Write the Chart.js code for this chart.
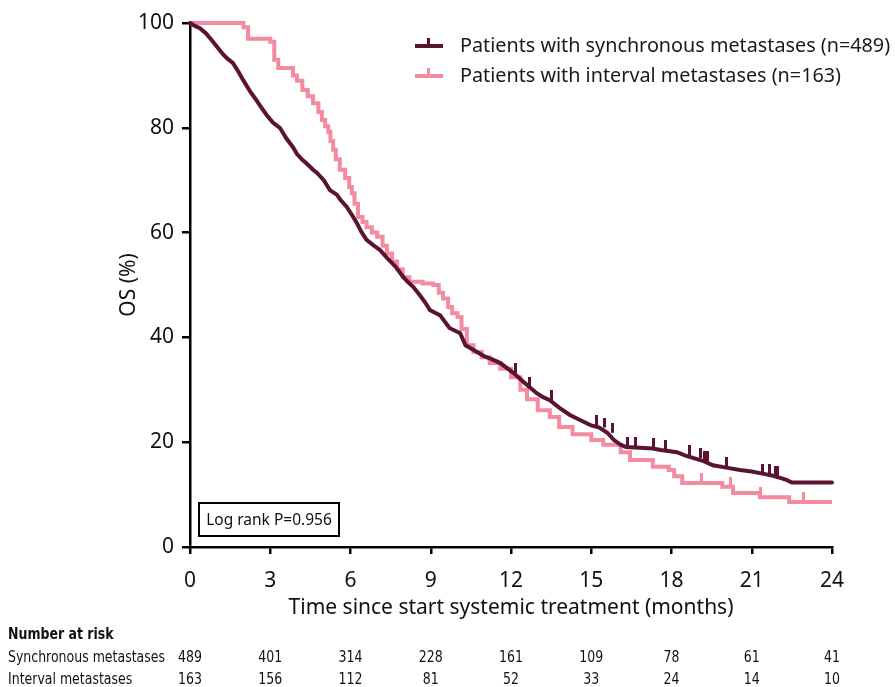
<!DOCTYPE html>
<html>
<head>
<meta charset="utf-8">
<script src="https://cdn.jsdelivr.net/npm/chart.js@4.4.0/dist/chart.umd.min.js"></script>
<style>
body { margin: 0; background: #fff; }
#wrap { position: relative; width: 895px; height: 687px; }
#chart { position: absolute; left: 0; top: 0; }
.legend { position: absolute; left: 415px; font-family: 'Noto Sans', sans-serif; font-size: 19.8px; color: #1a1a1a; }
.legend .sym { position: absolute; left: 0; width: 28px; height: 4px; }
.legend .sym i { position: absolute; left: 12px; top: -6px; width: 3px; height: 7px; }
.legend span { position: absolute; left: 45px; white-space: nowrap; }
#logrank { position: absolute; left: 198px; top: 502px; width: 138px; height: 31px; border: 2px solid #000;
  font-family: 'Noto Sans', sans-serif; font-size: 15.5px; line-height: 31px; text-align: center; color: #111; }
</style>
</head>
<body>
<div id="wrap">
  <canvas id="chart" width="895" height="687"></canvas>
  <div class="legend" style="top:31px">
    <div class="sym" style="top:13px;background:#5b1233"><i style="background:#5b1233"></i></div>
    <span style="top:0">Patients with synchronous metastases (n=489)</span>
  </div>
  <div class="legend" style="top:61px">
    <div class="sym" style="top:13px;background:#f38ca1"><i style="background:#f38ca1"></i></div>
    <span style="top:0">Patients with interval metastases (n=163)</span>
  </div>
  <div id="logrank">Log rank P=0.956</div>
</div>
<script>
// synchronous metastases (n=489) - survival
const syncTime = [0, 0.2, 0.37, 0.6, 0.8, 1.0, 1.24, 1.4, 1.6, 1.8, 2.0, 2.24, 2.45, 2.65, 2.87, 3.1, 3.36, 3.6, 3.85, 4.0,
  4.2, 4.4, 4.6, 4.75, 5.0, 5.23, 5.5, 5.6, 5.86, 6.05, 6.24, 6.4, 6.6, 6.85, 7.1, 7.4, 7.7, 7.9, 8.1, 8.35,
  8.6, 8.8, 8.97, 9.2, 9.35, 9.7, 10.1, 10.3, 10.6, 11.0, 11.3, 11.6, 12.1, 12.45, 12.7, 12.95, 13.2, 13.45,
  13.8, 14.2, 14.6, 15.0, 15.3, 15.6, 15.85, 16.1, 16.3, 17.3, 17.6, 18.2, 18.5, 18.8, 19.2, 19.55, 20.0, 20.56, 21.0, 21.4,
  21.8, 22.06, 22.3, 22.5, 24];
const syncSurv = [100, 99.4, 99, 98, 96.8, 95.5, 94, 93.2, 92.4, 90.8, 89, 87, 85.5, 84, 82.4, 81, 80, 78, 76.3, 75,
  73.9, 73, 72, 71.4, 70, 68.1, 67.2, 66.4, 64.9, 63.4, 61.8, 60.2, 58.6, 57.6, 56.7, 55, 53.4, 52, 50.8, 49.6,
  48, 46.6, 45.2, 44.6, 44.2, 41.8, 40.8, 38.5, 37.6, 36.4, 35.8, 35.1, 33.2, 31.6, 30.5, 29.4, 28.6, 28,
  26.6, 25.2, 24.2, 23.2, 22.8, 21.8, 20.4, 19.5, 19.1, 18.8, 18.5, 18.1, 17.5, 17, 16.4, 15.6, 15.2, 14.7, 14.4, 14.0,
  13.6, 13.2, 12.8, 12.3, 12.3];
const syncCensor = [12.15, 12.71, 13.53, 15.21, 15.51, 15.81, 16.37, 16.64, 17.31, 17.76, 18.69, 19.07, 19.25, 19.36,
  20.07, 21.42, 21.68, 21.87, 21.98];

// interval metastases (n=163)
const intTime = [0, 1.95, 2.0, 2.17, 3.0, 3.15, 3.3, 3.85, 4.0, 4.2, 4.4, 4.6, 4.8, 4.93, 5.05, 5.17, 5.25, 5.35, 5.45, 5.6,
  5.8, 5.95, 6.05, 6.15, 6.28, 6.45, 6.6, 6.8, 7.0, 7.2, 7.36, 7.55, 7.74, 7.95, 8.2, 8.7, 9.1, 9.3, 9.46, 9.65,
  9.8, 10.0, 10.15, 10.35, 10.6, 10.9, 11.2, 11.6, 12.0, 12.35, 12.6, 13.0, 13.45, 13.8, 14.3, 15.0, 15.45, 16.1, 16.45, 17.3,
  17.9, 18.1, 18.4, 19.9, 20.3, 21.3, 22.4, 24];
const intSurv = [100, 100, 99.2, 97, 96.4, 93, 91.4, 90, 89, 87.2, 86, 84.7, 83, 81.5, 80.3, 79.2, 77.5, 75.8, 74, 72,
  70.4, 68.7, 67.5, 65.5, 63, 62, 61, 60, 59.2, 57.5, 56, 54.5, 53, 51.5, 50.6, 50.3, 50, 48.5, 47.4, 45.8,
  44.6, 43.9, 41.6, 38.5, 37.2, 36.2, 35.1, 34, 32.4, 30, 28.2, 26.1, 24.8, 22.9, 21.5, 20.4, 19.5, 18.1, 16.6, 15.3,
  14.7, 13.5, 12.2, 11.5, 10.3, 9.5, 8.6, 8.6];
const intCensor = [19.14, 20.19, 21.31, 22.92];

const xTicks = [0, 3, 6, 9, 12, 15, 18, 21, 24];
const yTicks = [0, 20, 40, 60, 80, 100];
const riskSync = [489, 401, 314, 228, 161, 109, 78, 61, 41];
const riskInt = [163, 156, 112, 81, 52, 33, 24, 14, 10];

const darkColor = '#5b1233';
const pinkColor = '#f38ca1';

const toPoints = (t, s) => t.map((v, i) => ({ x: v, y: s[i] }));
const survAt = (t, s, at) => {
    let v = s[0];
    for (let i = 0; i < t.length; i++) {
        if (t[i] <= at) v = s[i];
    }
    return v;
};
const censorPoints = (c, t, s) => c.map(v => ({ x: v, y: survAt(t, s, v) }));

// vertical tick that sticks up above the curve
const makeTick = (color) => {
    const c = document.createElement('canvas');
    c.width = 3;
    c.height = 20;
    const g = c.getContext('2d');
    g.fillStyle = color;
    g.fillRect(0, 0, 3, 10);
    return c;
};

const tableFont = "'DejaVu Sans Condensed', 'Liberation Sans Narrow', sans-serif";
const riskTable = {
    id: 'riskTable',
    afterDraw(chart) {
        const ctx = chart.ctx;
        const xs = chart.scales.x;
        ctx.save();
        ctx.fillStyle = '#111';
        ctx.textBaseline = 'middle';
        ctx.font = '16px ' + tableFont;
        // squeeze the text so the row label is as narrow as in the figure
        const sx = 157 / ctx.measureText('Synchronous metastases').width;
        const put = (txt, x, y, align) => {
            ctx.save();
            ctx.textAlign = align;
            ctx.translate(x, y);
            ctx.scale(sx, 1);
            ctx.fillText(txt, 0, 0);
            ctx.restore();
        };
        ctx.font = 'bold 16px ' + tableFont;
        put('Number at risk', 8, 635, 'left');
        ctx.font = '16px ' + tableFont;
        put('Synchronous metastases', 8, 658, 'left');
        put('Interval metastases', 8, 680, 'left');
        xTicks.forEach((t, i) => {
            const px = xs.getPixelForValue(t);
            put(String(riskSync[i]), px, 658, 'center');
            put(String(riskInt[i]), px, 680, 'center');
        });
        ctx.restore();
    }
};

const axisFont = { family: "'Noto Sans', sans-serif", size: 21 };

new Chart(document.getElementById('chart'), {
    type: 'scatter',
    data: {
        datasets: [
            { data: toPoints(syncTime, syncSurv), showLine: true, stepped: false, borderColor: darkColor,
              borderWidth: 4, pointRadius: 0, clip: 8, order: 1, borderCapStyle: 'round' },
            { data: toPoints(intTime, intSurv), showLine: true, stepped: true, borderColor: pinkColor,
              borderWidth: 4, pointRadius: 0, clip: 8, order: 2 },
            { data: censorPoints(syncCensor, syncTime, syncSurv), showLine: false, pointStyle: makeTick(darkColor),
              clip: 12, order: 0 },
            { data: censorPoints(intCensor, intTime, intSurv), showLine: false, pointStyle: makeTick(pinkColor),
              clip: 12, order: 0 },
        ],
    },
    options: {
        responsive: false,
        animation: false,
        layout: { padding: { top: 23, right: 63, bottom: 60, left: 105 } },
        plugins: { legend: { display: false }, tooltip: { enabled: false } },
        scales: {
            x: {
                type: 'linear', min: 0, max: 24,
                afterFit: (s) => { s.height = 80; },
                afterBuildTicks: (s) => { s.ticks = xTicks.map(v => ({ value: v })); },
                border: { color: '#000', width: 2.5 },
                grid: { drawOnChartArea: false, drawTicks: true, tickLength: 7, color: '#000', lineWidth: 2.5 },
                ticks: { color: '#111', font: axisFont, padding: 14 },
                title: { display: true, text: 'Time since start systemic treatment (months)', color: '#111',
                         font: { family: "'Noto Sans', sans-serif", size: 21 }, padding: { top: 0, bottom: 6 } },
            },
            y: {
                min: 0, max: 100,
                afterFit: (s) => { s.width = 85; },
                afterBuildTicks: (s) => { s.ticks = yTicks.map(v => ({ value: v })); },
                border: { color: '#000', width: 2.5 },
                grid: { drawOnChartArea: false, drawTicks: true, tickLength: 8, color: '#000', lineWidth: 2.5 },
                ticks: { color: '#111', font: axisFont, padding: 8 },
                title: { display: true, text: 'OS (%)', color: '#111',
                         font: { family: "'Noto Sans', sans-serif", size: 21 }, padding: { top: 11, bottom: 0 } },
            },
        },
    },
    plugins: [riskTable],
});
</script>
</body>
</html>
